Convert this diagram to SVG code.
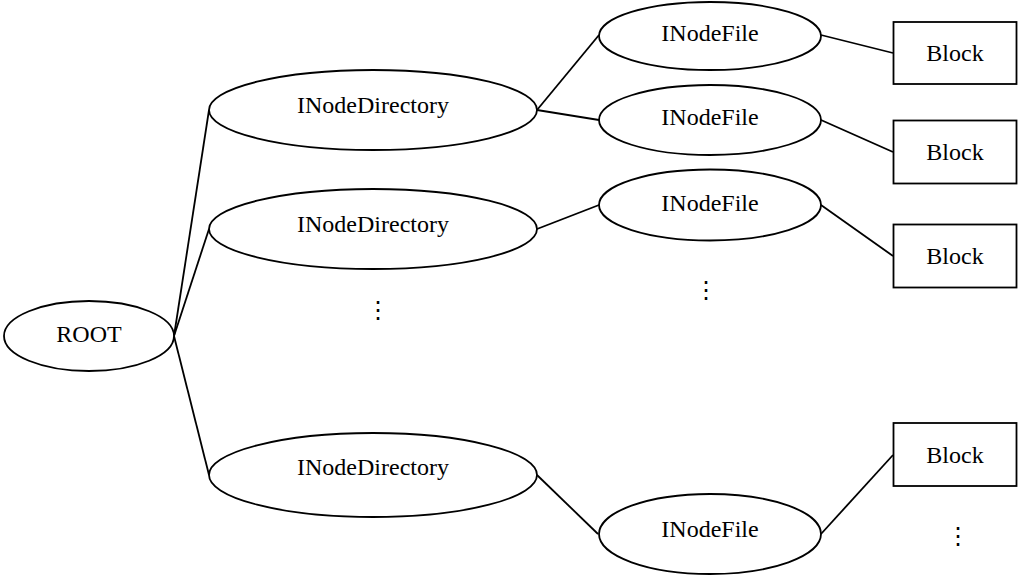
<svg xmlns="http://www.w3.org/2000/svg" width="1018" height="577" viewBox="0 0 1018 577">
  <style>
    .shape { fill: #ffffff; stroke: #000000; stroke-width: 1.8; }
    .edge { fill: none; stroke: #000000; stroke-width: 1.8; }
    .label { font-family: 'Liberation Serif', 'Times New Roman', serif; font-size: 24px; fill: #000000; text-anchor: middle; }
    .more { font-family: 'DejaVu Sans', sans-serif; font-size: 24px; fill: #000000; text-anchor: middle; }
  </style>
  <rect width="1018" height="577" fill="#ffffff"/>

  <!-- tree edges -->
  <g id="connectors">
    <line class="edge" x1="174" y1="336" x2="209" y2="110"/>
    <line class="edge" x1="174" y1="336" x2="209" y2="229"/>
    <line class="edge" x1="174" y1="336" x2="209" y2="475"/>
    <line class="edge" x1="537" y1="110" x2="599" y2="35"/>
    <line class="edge" x1="537" y1="110" x2="599" y2="120"/>
    <line class="edge" x1="537" y1="229" x2="599" y2="205"/>
    <line class="edge" x1="537" y1="475" x2="598" y2="534"/>
    <line class="edge" x1="821" y1="35" x2="893" y2="53"/>
    <line class="edge" x1="821" y1="120" x2="893" y2="152"/>
    <line class="edge" x1="821" y1="205" x2="893" y2="256"/>
    <line class="edge" x1="821" y1="534" x2="893" y2="455"/>
  </g>

  <g id="root">
    <ellipse class="shape" cx="89" cy="336" rx="85" ry="35"/>
    <text class="label" x="89" y="342">ROOT</text>
  </g>

  <g id="dir1">
    <ellipse class="shape" cx="373" cy="110" rx="164" ry="40"/>
    <text class="label" x="373" y="113">INodeDirectory</text>
  </g>
  <g id="dir2">
    <ellipse class="shape" cx="373" cy="229" rx="164" ry="40"/>
    <text class="label" x="373" y="232">INodeDirectory</text>
  </g>
  <g id="dir3">
    <ellipse class="shape" cx="373" cy="475" rx="164" ry="42"/>
    <text class="label" x="373" y="475">INodeDirectory</text>
  </g>

  <g id="file1">
    <ellipse class="shape" cx="710" cy="36" rx="111" ry="34"/>
    <text class="label" x="710" y="41">INodeFile</text>
  </g>
  <g id="file2">
    <ellipse class="shape" cx="710" cy="120" rx="111" ry="35"/>
    <text class="label" x="710" y="125">INodeFile</text>
  </g>
  <g id="file3">
    <ellipse class="shape" cx="710" cy="205" rx="111" ry="35.5"/>
    <text class="label" x="710" y="211">INodeFile</text>
  </g>
  <g id="file4">
    <ellipse class="shape" cx="710" cy="534" rx="111" ry="40"/>
    <text class="label" x="710" y="537">INodeFile</text>
  </g>

  <g id="block1">
    <rect class="shape" x="893.5" y="22" width="123" height="62"/>
    <text class="label" x="955" y="61">Block</text>
  </g>
  <g id="block2">
    <rect class="shape" x="893.5" y="120.5" width="123" height="63"/>
    <text class="label" x="955" y="160">Block</text>
  </g>
  <g id="block3">
    <rect class="shape" x="893.5" y="224.5" width="123" height="63"/>
    <text class="label" x="955" y="264">Block</text>
  </g>
  <g id="block4">
    <rect class="shape" x="893.5" y="423" width="123" height="63"/>
    <text class="label" x="955" y="463">Block</text>
  </g>

  <!-- continuation marks -->
  <g id="more-dirs"><text class="more" x="378" y="318">⋮</text></g>
  <g id="more-files"><text class="more" x="706" y="298">⋮</text></g>
  <g id="more-blocks"><text class="more" x="958" y="544">⋮</text></g>
</svg>
